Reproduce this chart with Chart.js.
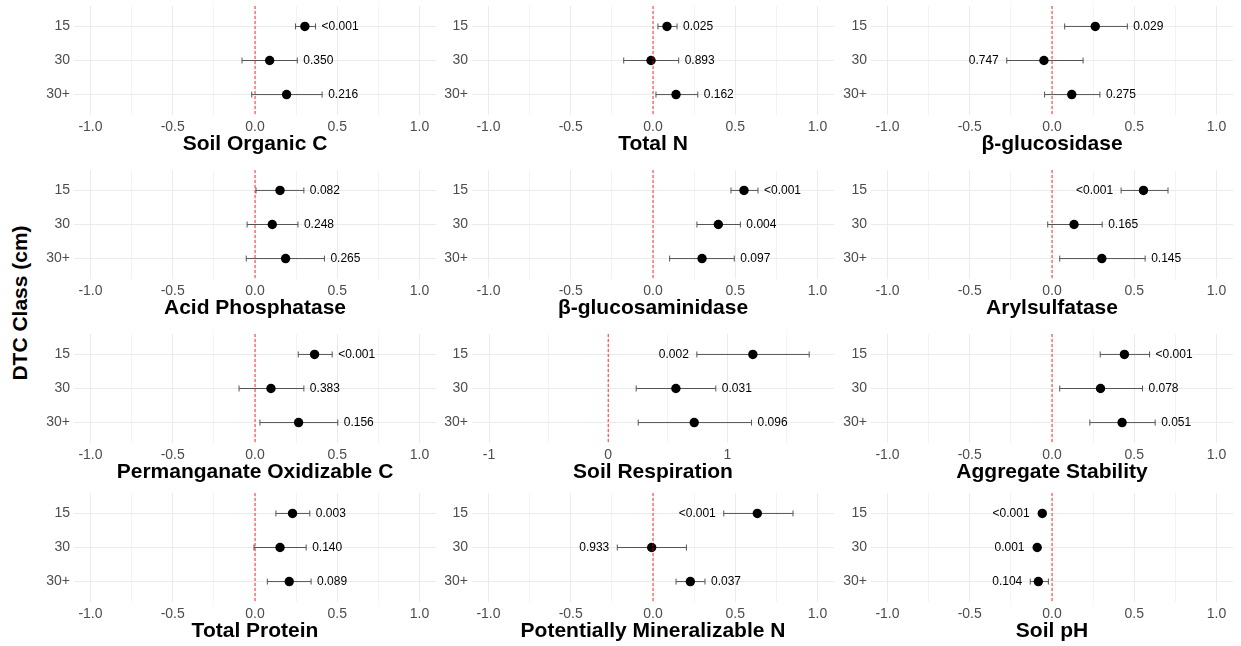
<!DOCTYPE html>
<html>
<head>
<meta charset="utf-8">
<script src="https://cdn.jsdelivr.net/npm/chart.js@4.4.1/dist/chart.umd.min.js"></script>
<style>
    body { margin: 0; background: #fff; width: 1241px; height: 646px; position: relative; overflow: hidden; font-family: "Liberation Sans", Arial, sans-serif; }
    canvas { position: absolute; }
    #ytitle { position: absolute; left: 20px; top: 303px; transform: translate(-50%, -50%) rotate(-90deg); font-weight: bold; font-size: 21px; white-space: nowrap; }
</style>
</head>
<body>
<div id="ytitle">DTC Class (cm)</div>
<script>
// Depth classes (y categories, top to bottom)
const depthClasses = ['15', '30', '30+'];

const panelTitles = [
    'Soil Organic C', 'Total N', 'β-glucosidase',
    'Acid Phosphatase', 'β-glucosaminidase', 'Arylsulfatase',
    'Permanganate Oxidizable C', 'Soil Respiration', 'Aggregate Stability',
    'Total Protein', 'Potentially Mineralizable N', 'Soil pH'
];

// Effect estimates per panel (15, 30, 30+)
const estimates = [
    [0.303, 0.089, 0.192],
    [0.085, -0.012, 0.140],
    [0.263, -0.049, 0.120],
    [0.152, 0.105, 0.186],
    [0.553, 0.397, 0.298],
    [0.556, 0.134, 0.303],
    [0.362, 0.097, 0.265],
    [1.214, 0.568, 0.722],
    [0.440, 0.295, 0.426],
    [0.228, 0.152, 0.208],
    [0.634, -0.008, 0.227],
    [-0.059, -0.090, -0.083]
];
const lowerCI = [
    [0.246, -0.079, -0.020],
    [0.030, -0.178, 0.018],
    [0.077, -0.275, -0.045],
    [0.006, -0.048, -0.053],
    [0.474, 0.267, 0.101],
    [0.420, -0.026, 0.047],
    [0.263, -0.097, 0.030],
    [0.744, 0.235, 0.252],
    [0.293, 0.047, 0.230],
    [0.127, -0.006, 0.075],
    [0.430, -0.217, 0.140],
    [-0.066, -0.097, -0.132]
];
const upperCI = [
    [0.368, 0.257, 0.408],
    [0.146, 0.156, 0.272],
    [0.458, 0.189, 0.291],
    [0.297, 0.261, 0.422],
    [0.638, 0.531, 0.494],
    [0.705, 0.305, 0.566],
    [0.469, 0.297, 0.503],
    [1.687, 0.903, 1.203],
    [0.593, 0.550, 0.627],
    [0.333, 0.311, 0.341],
    [0.851, 0.203, 0.316],
    [-0.052, -0.083, -0.022]
];
const pValues = [
    ['<0.001', '0.350', '0.216'],
    ['0.025', '0.893', '0.162'],
    ['0.029', '0.747', '0.275'],
    ['0.082', '0.248', '0.265'],
    ['<0.001', '0.004', '0.097'],
    ['<0.001', '0.165', '0.145'],
    ['<0.001', '0.383', '0.156'],
    ['0.002', '0.031', '0.096'],
    ['<0.001', '0.078', '0.051'],
    ['0.003', '0.140', '0.089'],
    ['<0.001', '0.933', '0.037'],
    ['<0.001', '0.001', '0.104']
];
// which side of the interval the p-value sits on
const labelSide = [
    ['R', 'R', 'R'], ['R', 'R', 'R'], ['R', 'L', 'R'],
    ['R', 'R', 'R'], ['R', 'R', 'R'], ['L', 'R', 'R'],
    ['R', 'R', 'R'], ['L', 'R', 'R'], ['R', 'R', 'R'],
    ['R', 'R', 'R'], ['L', 'L', 'R'], ['L', 'L', 'L']
];

// x axes
const xStdRange = [-1.1, 1.1];
const xStdMajor = [-1, -0.5, 0, 0.5, 1];
const xStdLabels = ['-1.0', '-0.5', '0.0', '0.5', '1.0'];
const xStdMinor = [-0.75, -0.25, 0.25, 0.75];
const xRespRange = [-1.143, 1.895];
const xRespMajor = [-1, 0, 1];
const xRespLabels = ['-1', '0', '1'];
const xRespMinor = [-0.5, 0.5, 1.5];
const respPanel = 7;

// layout
const colLeft = [74, 472, 871];
const rowTop = [6, 170, 334, 493];
const plotW = 362, plotH = 109, yAxisW = 40, xAxisH = 44;
const fontFam = '"Liberation Sans", Arial, sans-serif';

// p-value text next to each interval
const pLabelPlugin = {
    id: 'pLabels',
    afterDatasetsDraw(chart, args, opts) {
        const k = opts.panel;
        const xs = chart.scales.x, ys = chart.scales.y;
        const ctx = chart.ctx;
        ctx.save();
        ctx.font = '12px ' + fontFam;
        ctx.fillStyle = '#000';
        ctx.textBaseline = 'middle';
        for (let i = 0; i < 3; i++) {
            const y = ys.getPixelForValue(i + 1);
            const pe = xs.getPixelForValue(estimates[k][i]);
            if (labelSide[k][i] === 'R') {
                const x = Math.max(xs.getPixelForValue(upperCI[k][i]), pe + 4.7) + 6;
                ctx.textAlign = 'left';
                ctx.fillText(pValues[k][i], x, y);
            } else {
                const x = Math.min(xs.getPixelForValue(lowerCI[k][i]), pe - 4.7) - 8;
                ctx.textAlign = 'right';
                ctx.fillText(pValues[k][i], x, y);
            }
        }
        ctx.restore();
    }
};

panelTitles.forEach((title, k) => {
    const r = Math.floor(k / 3), c = k % 3;
    const cv = document.createElement('canvas');
    cv.width = plotW + yAxisW;
    cv.height = plotH + xAxisH;
    cv.style.left = (colLeft[c] - yAxisW) + 'px';
    cv.style.top = rowTop[r] + 'px';
    document.body.appendChild(cv);

    const isResp = k === respPanel;
    const range = isResp ? xRespRange : xStdRange;
    const major = isResp ? xRespMajor : xStdMajor;
    const majorLabels = isResp ? xRespLabels : xStdLabels;
    const minor = isResp ? xRespMinor : xStdMinor;
    const allTicks = major.concat(minor).sort((a, b) => a - b);

    const datasets = [];
    // zero reference line
    datasets.push({
        data: [{ x: 0, y: 0.4 }, { x: 0, y: 3.6 }],
        showLine: true, borderColor: 'rgba(255,0,0,0.8)', borderWidth: 1, borderDash: [3, 2], pointRadius: 0
    });
    // estimates
    datasets.push({
        data: estimates[k].map((v, i) => ({ x: v, y: i + 1 })),
        pointRadius: 4.7, backgroundColor: '#000', borderWidth: 0
    });
    // intervals
    for (let i = 0; i < 3; i++) {
        datasets.push({
            data: [{ x: lowerCI[k][i], y: i + 1 }, { x: upperCI[k][i], y: i + 1 }],
            showLine: true, borderColor: '#555', borderWidth: 1,
            pointStyle: 'line', pointRotation: 90, pointRadius: 3,
            pointBorderColor: '#555', pointBorderWidth: 1
        });
    }

    new Chart(cv, {
        type: 'scatter',
        data: { datasets: datasets },
        options: {
            responsive: false,
            animation: false,
            layout: { padding: 0, autoPadding: false },
            plugins: {
                legend: { display: false },
                tooltip: { enabled: false },
                pLabels: { panel: k }
            },
            scales: {
                x: {
                    type: 'linear', min: range[0], max: range[1],
                    afterBuildTicks: s => { s.ticks = allTicks.map(v => ({ value: v })); },
                    afterFit: s => { s.height = xAxisH; s.paddingLeft = 0; s.paddingRight = 0; },
                    ticks: {
                        autoSkip: false, maxRotation: 0, padding: 4, color: '#4d4d4d',
                        font: { size: 14, family: fontFam },
                        callback: v => {
                            const j = major.indexOf(v);
                            return j >= 0 ? majorLabels[j] : '';
                        }
                    },
                    grid: {
                        drawTicks: false, lineWidth: 1,
                        color: ctx => major.indexOf(ctx.tick.value) >= 0 ? '#ebebeb' : '#f3f3f3'
                    },
                    border: { display: false },
                    title: {
                        display: true, text: title, color: '#000',
                        font: { size: 21, weight: 'bold', family: fontFam },
                        padding: { top: 0, bottom: 2 }
                    }
                },
                y: {
                    type: 'linear', min: 0.4, max: 3.6, reverse: true,
                    afterBuildTicks: s => { s.ticks = [1, 2, 3].map(v => ({ value: v })); },
                    afterFit: s => { s.width = yAxisW; s.paddingTop = 0; s.paddingBottom = 0; },
                    ticks: {
                        padding: 4, color: '#4d4d4d',
                        font: { size: 14, family: fontFam },
                        callback: v => depthClasses[v - 1]
                    },
                    grid: { drawTicks: false, color: '#ebebeb' },
                    border: { display: false }
                }
            }
        },
        plugins: [pLabelPlugin]
    });
});
</script>
</body>
</html>
